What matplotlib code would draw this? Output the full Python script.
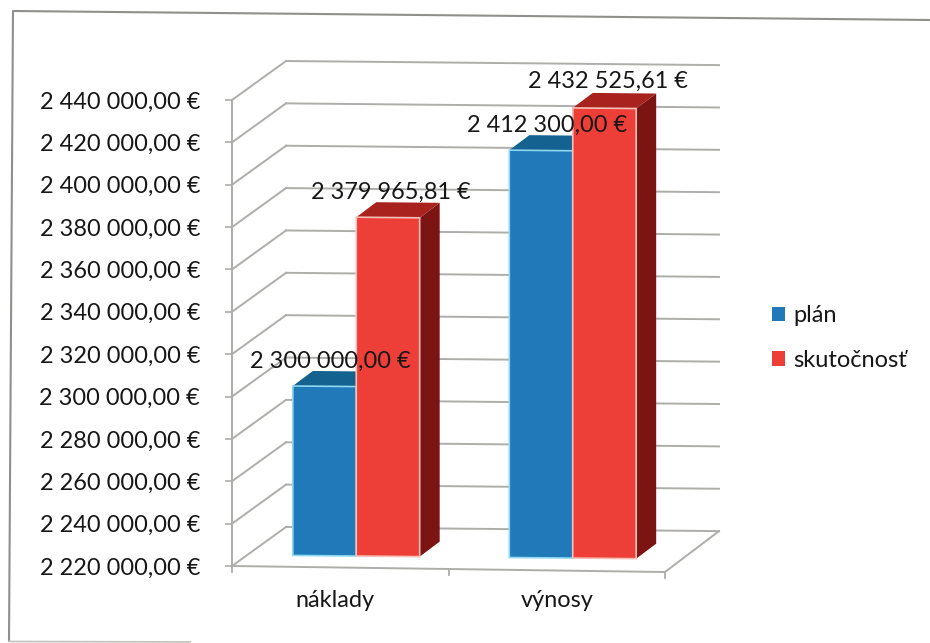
import matplotlib
matplotlib.use("Agg")
import matplotlib.pyplot as plt
from matplotlib.patches import Polygon, Rectangle
from matplotlib.transforms import Affine2D
from matplotlib.ticker import FuncFormatter

categories = ["náklady", "výnosy"]
series_names = ["plán", "skutočnosť"]
plan_values = [2300000.00, 2412300.00]
actual_values = [2379965.81, 2432525.61]
tick_values = [2220000 + 20000 * i for i in range(12)]

FACE = ["#2079b8", "#ee3e38"]
TOP = ["#13628f", "#a8221e"]
SIDE = ["#0e4a70", "#7c1414"]
EDGE = ["#8fd8f2", "#f6c0b8"]
INK = "#161616"
GRID = "#adadaa"
FS = 16.9

plt.rcParams["font.family"] = ["Lato", "DejaVu Sans"]
W, H = 930, 643
fig = plt.figure(figsize=(W / 100, H / 100), dpi=100, facecolor="white")


def fmt(v, _=None):
    whole, dec = f"{v:,.2f}".split(".")
    return whole.replace(",", " ") + "," + dec + " €"


L, R, B, T = 232, 665, 566, 100
ax = fig.add_axes([L / W, 1 - B / H, (R - L) / W, (B - T) / H])
ax.set_xlim(0, 2)
ax.set_ylim(2220000, 2440000)
ax.patch.set_alpha(0)
for s in ax.spines.values():
    s.set_visible(False)

# scanned frame of the card: top and left edges, fading bottom edge
frame_x = [930, 13, 9]
frame_y = [20, 11, 641]
fig.add_artist(plt.Line2D([x / W for x in frame_x], [1 - y / H for y in frame_y],
                          transform=fig.transFigure, color="#8f8f8c", lw=1.5, zorder=-5))
fig.add_artist(plt.Line2D([9 / W, 190 / W], [1 - 641.5 / H, 1 - 642 / H],
                          transform=fig.transFigure, color="#c4c4c0", lw=1.3, zorder=-5))


def view(dx=0.0, dy=0.0, slope=0.0095):
    return (ax.transData + Affine2D().translate(-L, 0)
            + Affine2D.from_values(1, -slope, 0, 1, 0, 0)
            + Affine2D().translate(L + dx, dy))


DX, DY = 54, 39
FRONT_SLOPE = 0.0139


def pixel_line(a, b, lw=1.4):
    ax.add_line(plt.Line2D([a[0], b[0]], [a[1], b[1]], color=GRID, lw=lw, zorder=1,
                           transform=None, clip_on=False))


# back wall gridlines and side wall diagonals
for v in tick_values:
    ax.add_line(plt.Line2D([0, 2], [v, v], color=GRID, lw=1.4, zorder=1,
                           transform=view(DX, DY), clip_on=False))
    pixel_line(view().transform((0, v)), view(DX, DY).transform((0, v)))

# floor front edge, right edge, vertical axis
v0 = tick_values[0]
front_edge = view(slope=FRONT_SLOPE)
ax.add_line(plt.Line2D([0, 2], [v0, v0], color=GRID, lw=1.4, zorder=1,
                       transform=front_edge, clip_on=False))
pixel_line(front_edge.transform((2, v0)), view(DX, DY).transform((2, v0)))
ax.add_line(plt.Line2D([0, 0], [v0, tick_values[-1]], color=GRID, lw=1.4, zorder=1,
                       transform=view(), clip_on=False))
# category ticks
for x in [0, 1, 2]:
    p = front_edge.transform((x, v0))
    pixel_line(p, (p[0], p[1] - 6), lw=1.3)

ax.set_xticks([0.475, 1.5], categories)
ax.set_yticks(tick_values)
ax.yaxis.set_major_formatter(FuncFormatter(fmt))
ax.tick_params(axis="y", length=5, width=1.2, color=GRID, labelsize=FS, pad=18, labelcolor=INK)
ax.tick_params(axis="x", length=0, labelsize=FS, pad=17, labelcolor=INK)

# bars
BW = 0.293
FDX, FDY = 16, 11
BDX, BDY = 20, 15
front = view(FDX, FDY)
for g, (vals, off) in enumerate(zip([plan_values, actual_values], [-BW, 0])):
    for i, v in enumerate(vals):
        x0, x1 = 0.5 + i + off, 0.5 + i + off + BW
        pa = front.transform((x0, v0))
        pb = front.transform((x1, v0))
        pc = front.transform((x1, v))
        pd = front.transform((x0, v))
        d = (BDX, BDY)
        ax.add_patch(Polygon([pb, pc, pc + d, pb + d], closed=True, transform=None,
                             fc=SIDE[g], ec="none", zorder=3 + g, clip_on=False))
        ax.add_patch(Polygon([pd, pc, pc + d, pd + d], closed=True, transform=None,
                             fc=TOP[g], ec="none", zorder=3 + g, clip_on=False))
        ax.add_patch(Polygon([pa, pb, pc, pd], closed=True, transform=None,
                             fc=FACE[g], ec=EDGE[g], lw=1.2, zorder=3 + g, clip_on=False))

# data labels
label_shift = {(0, 0): (6, 25), (1, 0): (3, 25), (0, 1): (6, 25), (1, 1): (3, 27)}
for g, vals in enumerate([plan_values, actual_values]):
    for i, v in enumerate(vals):
        x = 0.5 + i + (-BW / 2 if g == 0 else BW / 2)
        p = front.transform((x, v))
        sx, sy = label_shift[(g, i)]
        ax.annotate(fmt(v), xy=(p[0] + sx, p[1] + sy), xycoords="figure pixels",
                    ha="center", va="center", fontsize=FS, color=INK, zorder=8,
                    annotation_clip=False)

# legend
handles = [Rectangle((0, 0), 1, 1, fc=FACE[k], ec="none") for k in range(2)]
fig.legend(handles, series_names, loc="center left", bbox_to_anchor=(772 / W, 1 - 338 / H),
           frameon=False, fontsize=17, handlelength=0.55, handleheight=0.55, handletextpad=0.35,
           labelspacing=1.0, borderpad=0, borderaxespad=0, labelcolor=INK)

fig.savefig("out.png", dpi=100, facecolor="white")
